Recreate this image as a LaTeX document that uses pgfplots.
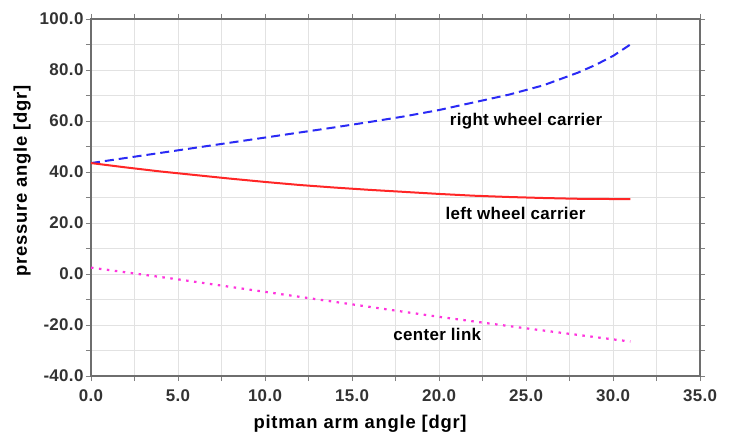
\documentclass[border=0pt]{standalone}
\usepackage{pgfplots}
\pgfplotsset{compat=1.18}
\usepackage{fontspec}
\setmainfont{Liberation Sans}
\definecolor{gridc}{HTML}{E2E2E2}
\definecolor{axc}{HTML}{6E6E6E}
\definecolor{bl}{HTML}{2A2AF5}
\definecolor{rd}{HTML}{FF2626}
\definecolor{mg}{HTML}{FF33DD}
\begin{document}
\begin{tikzpicture}[x=1bp,y=1bp]
\begin{axis}[
  name=ax,
  scale only axis,
  width=609bp, height=357bp,
  xmin=0, xmax=35, ymin=-40, ymax=100,
  xtick={0,5,...,35}, ytick={-40,-20,...,100},
  minor x tick num=1, minor y tick num=1,
  grid=both,
  major grid style={gridc, line width=0.8bp},
  minor grid style={gridc, line width=0.8bp},
  tick align=outside,
  major tick length=5bp, minor tick length=5bp,
  every axis tick/.style={axc, line width=0.9bp},
  axis line style={axc, line width=1.6bp},
  /pgf/number format/fixed, /pgf/number format/fixed zerofill, /pgf/number format/precision=1,
  /pgf/number format/assume math mode=true,
  ticklabel style={font=\fontsize{17}{19}\selectfont\bfseries\addfontfeatures{LetterSpace=2}, text=black!80},
  xticklabel style={yshift=-5bp},
  yticklabel style={xshift=1bp},
  xlabel={\textbf{pitman arm angle [dgr]}},
  ylabel={\textbf{pressure angle [dgr]}},
  label style={font=\fontsize{18.5}{20}\selectfont\addfontfeatures{LetterSpace=4}},
  xlabel style={yshift=-7bp, xshift=-35bp},
  ylabel style={yshift=2bp, xshift=17bp},
  clip=false,
]
\addplot[bl, line width=2bp, dash pattern=on 9bp off 5bp] coordinates {
(0,43.5) (2,45.5) (4,47.5) (6,49.5) (8,51.5) (10,53.5) (12,55.5) (14,57.5) (16,59.6) (18,61.8) (20,64.3) (22,67.3) (24,70.3) (26,74) (28,79) (29,82) (30,85.5) (31,90)};
\addplot[rd, line width=2bp] coordinates {
(0,43.5) (2,41.8) (4,40.2) (6,38.8) (8,37.4) (10,36.1) (12,34.9) (14,33.9) (16,33) (18,32.2) (20,31.4) (22,30.7) (24,30.2) (26,29.8) (28,29.5) (30,29.4) (31,29.4)};
\addplot[mg, line width=2.2bp, dash pattern=on 2.5bp off 5.5bp] coordinates {
(0,2.5) (5,-2.1) (10,-7) (15,-11.9) (20,-16.8) (25,-21.3) (31,-26.5)};
\begin{scope}[every node/.style={font=\fontsize{17}{19}\selectfont\bfseries\addfontfeatures{LetterSpace=2}}]
\node at (axis cs:25,59.9) {right wheel carrier};
\node at (axis cs:24.4,23.9) {left wheel carrier};
\node at (axis cs:19.9,-23.9) {center link};
\end{scope}
\end{axis}
\path (ax.south west) ++(-91bp,-61bp) (ax.north east) ++(30bp,19bp);
\end{tikzpicture}
\end{document}
